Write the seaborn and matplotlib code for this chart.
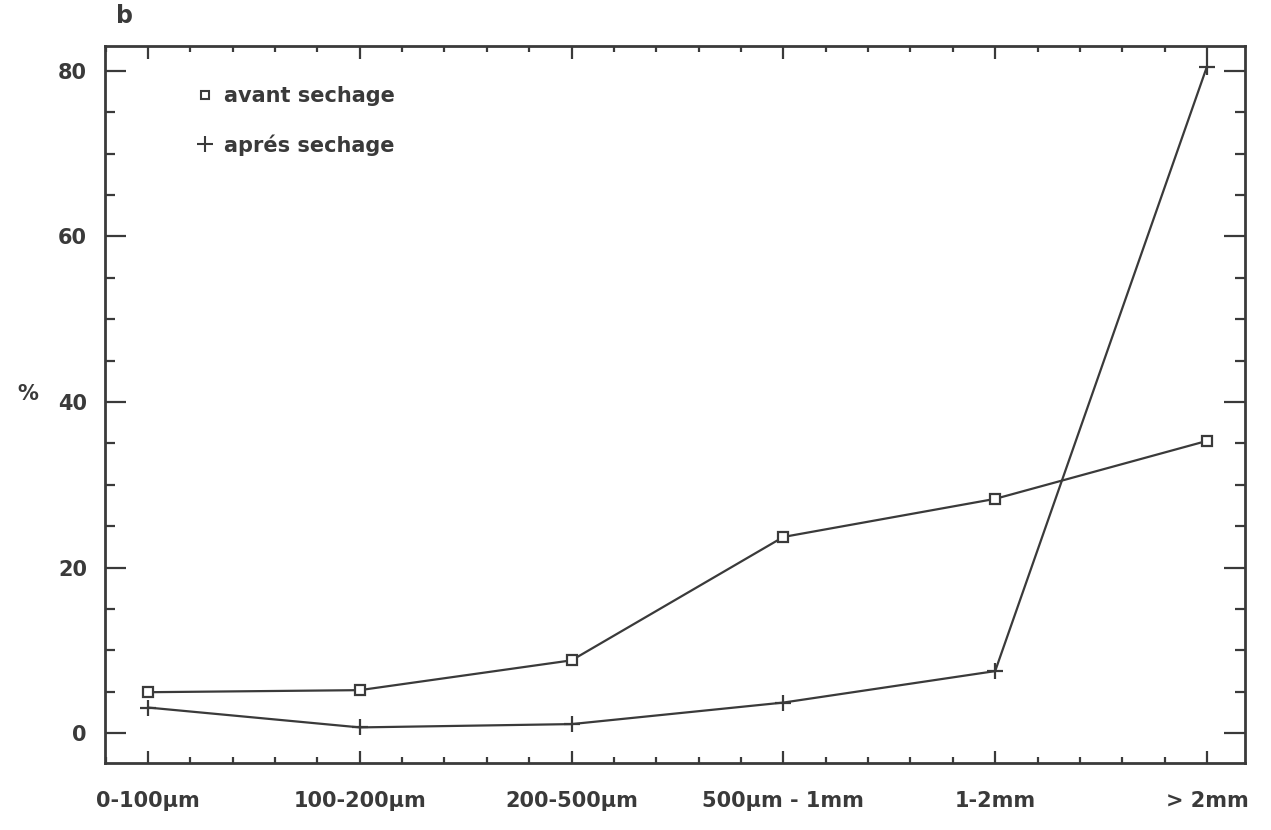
import matplotlib
matplotlib.use("Agg")
import matplotlib.pyplot as plt
from matplotlib.lines import Line2D
from matplotlib.ticker import MultipleLocator, FixedLocator
import seaborn as sns
import pandas as pd

categories = ["0-100µm", "100-200µm", "200-500µm", "500µm - 1mm", "1-2mm", "> 2mm"]
avant = [4.95, 5.2, 8.8, 23.7, 28.3, 35.3]
apres = [3.1, 0.7, 1.1, 3.7, 7.5, 80.5]
series_names = ["avant sechage", "aprés sechage"]
y_ticks = [0, 20, 40, 60, 80]

sns.set_theme(style="white")
plt.rcParams['font.family'] = ['DejaVu Sans']

C = "#3a3a3a"
df = pd.DataFrame({
    "x": list(range(len(categories))) * 2,
    "y": avant + apres,
    "serie": [series_names[0]] * len(avant) + [series_names[1]] * len(apres),
})

fig = plt.figure(figsize=(12.71, 8.30), dpi=100)
ax = fig.add_axes([0.0826, 0.0807, 0.897, 0.864])

sns.lineplot(data=df, x="x", y="y", hue="serie", style="serie",
             palette={series_names[0]: C, series_names[1]: C},
             markers={series_names[0]: "s", series_names[1]: "P"},
             dashes=False, linewidth=1.6, legend=False, ax=ax)
lines = ax.get_lines()
lines[0].set_marker("s"); lines[0].set_markersize(6.5); lines[0].set_markerfacecolor("white")
lines[0].set_markeredgecolor(C); lines[0].set_markeredgewidth(1.6)
lines[1].set_marker("+"); lines[1].set_markersize(11); lines[1].set_markeredgewidth(1.6)
lines[1].set_markeredgecolor(C)

ax.set_xlim(-0.203, 5.18)
ax.set_ylim(-3.6, 83.0)

ax.xaxis.set_major_locator(FixedLocator(range(len(categories))))
ax.set_xticklabels(categories)
ax.xaxis.set_minor_locator(MultipleLocator(0.2))
ax.set_yticks(y_ticks)
ax.yaxis.set_minor_locator(MultipleLocator(5))

for s in ax.spines.values():
    s.set_color(C)
    s.set_linewidth(2)

ax.tick_params(axis="x", which="major", direction="in", length=9, width=1.6, color=C,
               top=True, bottom=True, labelsize=15, labelcolor=C, pad=20)
ax.tick_params(axis="x", which="minor", direction="in", length=4, width=1.6, color=C,
               top=True, bottom=True)
ax.tick_params(axis="y", which="major", direction="in", length=15, width=1.6, color=C,
               left=True, right=True, labelsize=15, labelcolor=C, pad=13)
ax.tick_params(axis="y", which="minor", direction="in", length=7, width=1.6, color=C,
               left=True, right=True)
for lab in ax.get_xticklabels() + ax.get_yticklabels():
    lab.set_fontweight("bold")

ax.set_xlabel("")
ax.set_ylabel("%", rotation=0, fontsize=15, fontweight="bold", color=C)
ax.yaxis.set_label_coords(-0.068, 0.5)

ax.text(0.01, 1.025, "b", transform=ax.transAxes, fontsize=17, fontweight="bold",
        color=C, ha="left", va="bottom")

handles = [
    Line2D([], [], linestyle="none", marker="s", markersize=6, markerfacecolor="white",
           markeredgecolor=C, markeredgewidth=1.5, label=series_names[0]),
    Line2D([], [], linestyle="none", marker="+", markersize=11, markeredgecolor=C,
           markeredgewidth=1.5, label=series_names[1]),
]
leg = ax.legend(handles=handles, loc="upper left", bbox_to_anchor=(0.066, 0.97),
                frameon=False, handlelength=0.6, handletextpad=0.6, labelspacing=1.35,
                prop={"size": 15, "weight": "bold"})
for t in leg.get_texts():
    t.set_color(C)

fig.savefig("out.png", dpi=100, facecolor="white")
